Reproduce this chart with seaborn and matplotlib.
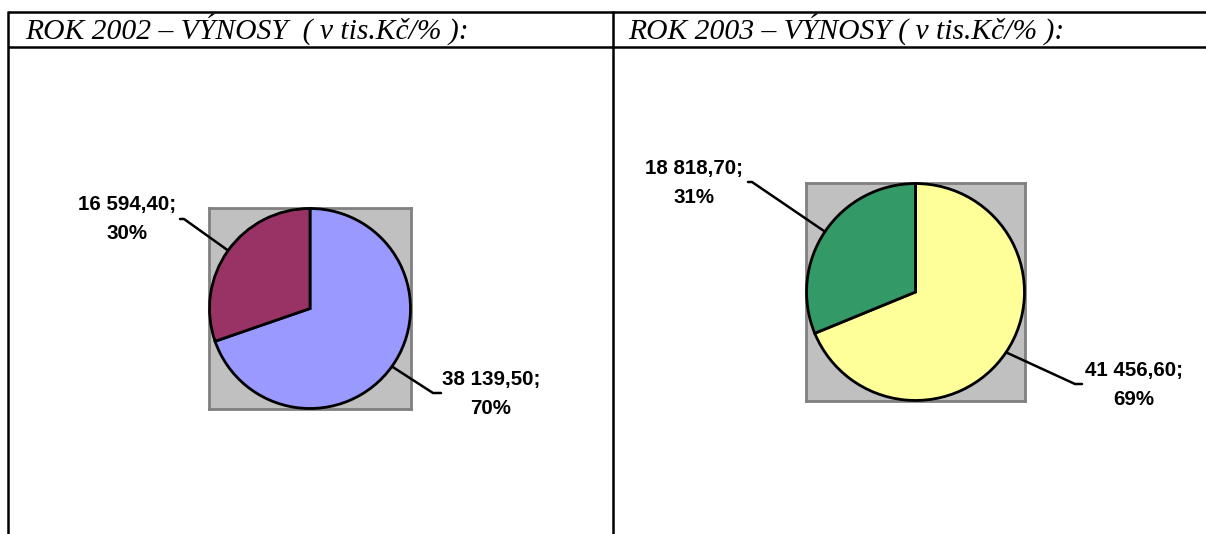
import numpy as np
import matplotlib
matplotlib.use("Agg")
import matplotlib.pyplot as plt
import seaborn as sns
from matplotlib.lines import Line2D

# ---- data ----
titles = ["ROK 2002 – VÝNOSY  ( v tis.Kč/% ):", "ROK 2003 – VÝNOSY ( v tis.Kč/% ):"]
values_2002 = [38139.50, 16594.40]
values_2003 = [41456.60, 18818.70]
colors_2002 = ["#9999FF", "#993366"]
colors_2003 = ["#FFFF99", "#339966"]

sns.set_theme(style="white")
plt.rcParams['font.family'] = ['Liberation Sans', 'DejaVu Sans']

W, H = 1206, 534
DPI = 100
fig = plt.figure(figsize=(W / DPI, H / DPI), dpi=DPI)
fig.patch.set_facecolor("white")

def px_axes(x0, y0, x1, y1):
    # pixel box (top-left origin) -> figure fraction
    return fig.add_axes([x0 / W, 1 - y1 / H, (x1 - x0) / W, (y1 - y0) / H])

# overlay for table & leaders
ov = fig.add_axes([0, 0, 1, 1], zorder=5)
ov.set_xlim(0, W)
ov.set_ylim(H, 0)
ov.axis("off")
ov.patch.set_alpha(0)

# table lines
lw = 1.8
ov.plot([8, W], [12, 12], color="black", lw=lw, solid_capstyle="butt")
ov.plot([8, W], [47, 47], color="black", lw=lw, solid_capstyle="butt")
ov.plot([8, 8], [11, H], color="black", lw=lw, solid_capstyle="butt")
ov.plot([613, 613], [11, H], color="black", lw=lw, solid_capstyle="butt")

# headers
for x, t in zip([25, 628], titles):
    ov.text(x, 38.5, t, fontsize=21.3, fontstyle="italic", family="Liberation Serif",
            ha="left", va="baseline", color="black")

def fmt_val(v):
    s = f"{v:,.2f}"
    return s.replace(",", " ").replace(".", ",")

def draw_pie(box, values, colors, label_specs):
    ax = px_axes(*box)
    wedges, _ = ax.pie(values, colors=colors, startangle=90, counterclock=False,
                       radius=1.0, wedgeprops=dict(edgecolor="black", linewidth=2))
    ax.set_frame_on(True)
    ax.set_facecolor("#C0C0C0")
    ax.patch.set_visible(True)
    for sp in ax.spines.values():
        sp.set_visible(True)
        sp.set_color("#808080")
        sp.set_linewidth(2)
        sp.set_zorder(0.5)
    for w in wedges:
        w.set_clip_on(False)
        w.set_zorder(3)
    ax.set_xlim(-1.005, 1.005)
    ax.set_ylim(-1.005, 1.005)
    ax.set_aspect("auto")
    ax.set_xticks([]); ax.set_yticks([])
    total = sum(values)
    fig.canvas.draw()
    for w, v, spec in zip(wedges, values, label_specs):
        mid = np.deg2rad((w.theta1 + w.theta2) / 2)
        xd, yd = np.cos(mid), np.sin(mid)
        disp = ax.transData.transform((xd, yd))
        px = ov.transData.inverted().transform(disp)
        (ex, ey), (tx, ty), (lx, ly) = spec
        ov.add_line(Line2D([px[0], ex, tx], [px[1], ey, ty], color="black", lw=1.8))
        pct = round(100 * v / total)
        ov.text(lx, ly, f"{fmt_val(v)};\n{pct}%", ha="center", va="center",
                fontsize=14.8, fontweight="bold", linespacing=1.62, color="black")

# box (x0,y0,x1,y1) in pixels; label specs: elbow, tick end, label centre
draw_pie((209, 208, 411, 409), values_2002, colors_2002, [
    ((433, 393), (441, 393), (491, 394)),
    ((184, 219), (180, 219), (127, 219)),
])
draw_pie((806, 183, 1025, 401), values_2003, colors_2003, [
    ((1075, 384), (1082, 384), (1134, 385)),
    ((752, 182), (748, 182), (694, 183)),
])

fig.savefig("out.png", dpi=DPI, facecolor="white")
